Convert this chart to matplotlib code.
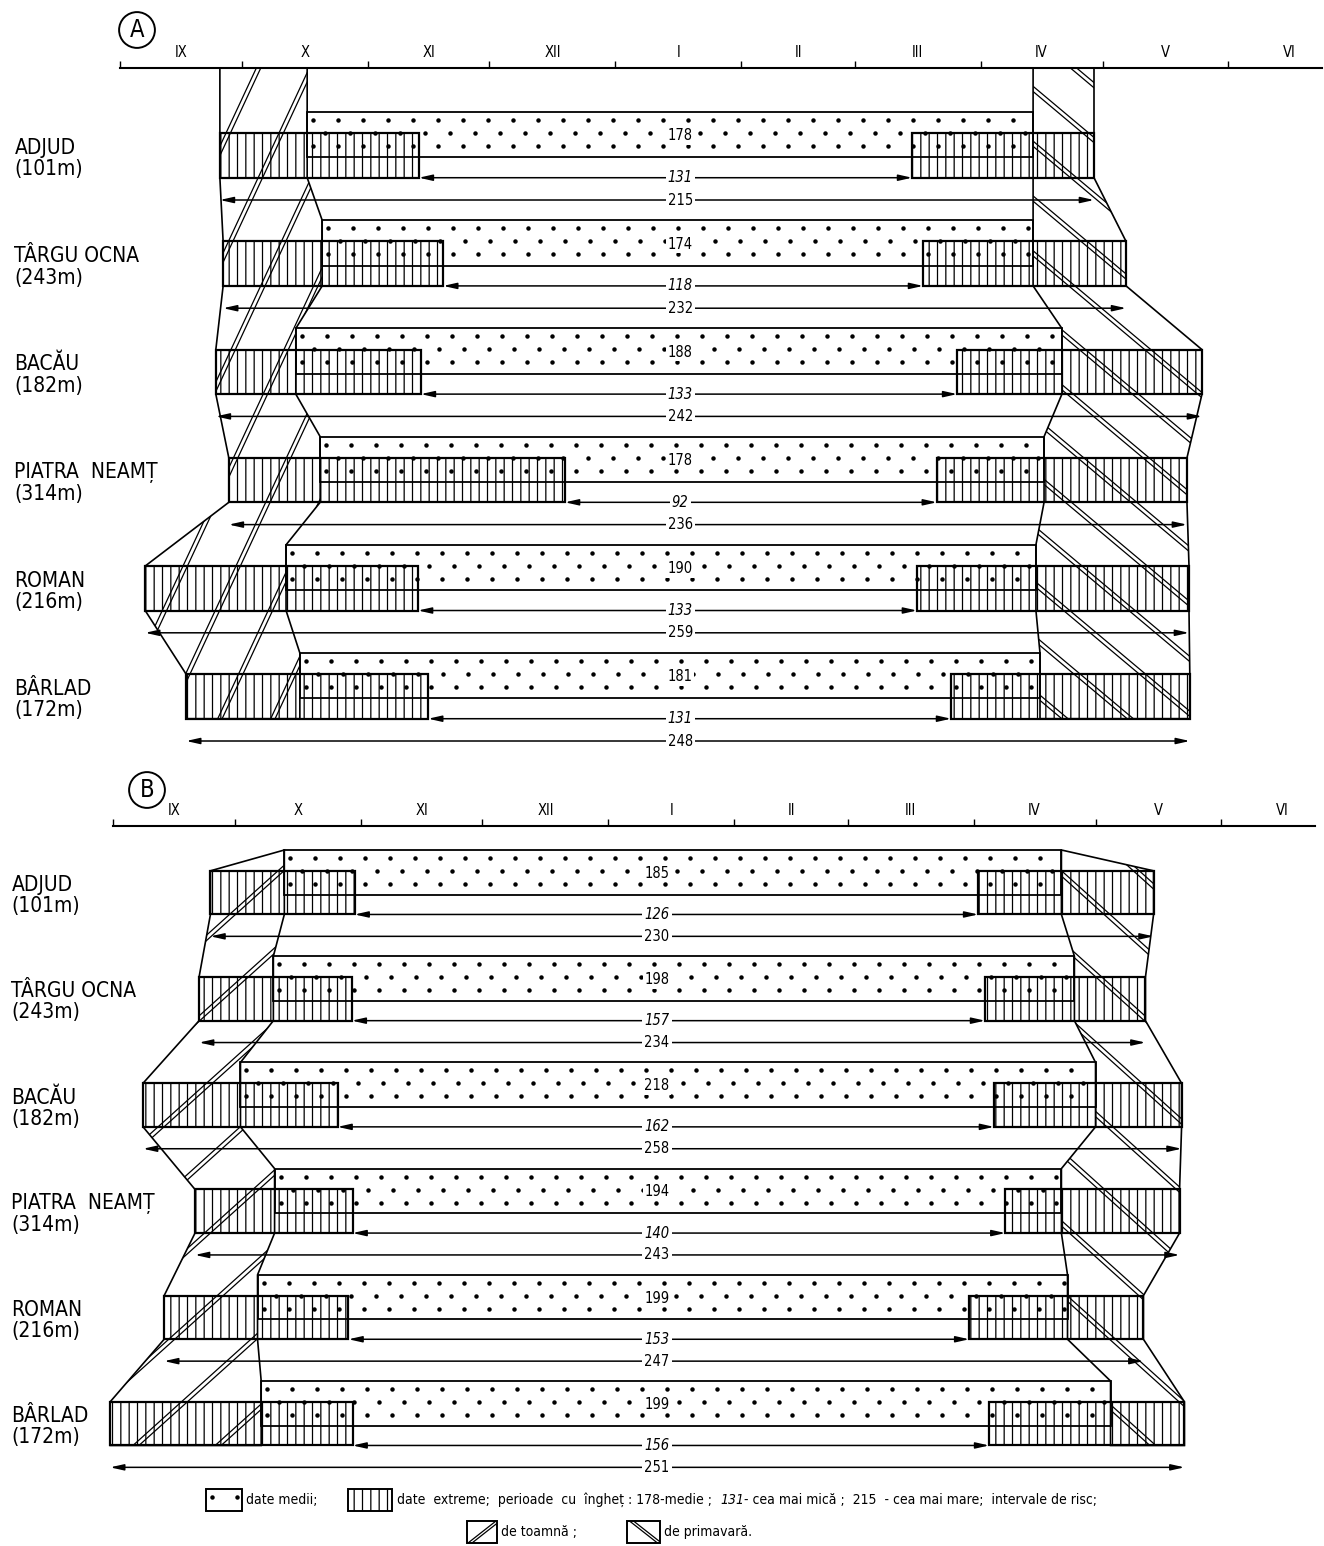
import numpy as np
import matplotlib
matplotlib.use("Agg")
import matplotlib.pyplot as plt
from matplotlib.patches import Rectangle, Polygon
from matplotlib.lines import Line2D
from matplotlib.transforms import IdentityTransform

plt.rcParams['font.family'] = ['DejaVu Sans']
plt.rcParams['font.stretch'] = 'condensed'
plt.rcParams['hatch.linewidth'] = 0.9

statii = ['ADJUD', 'TÂRGU OCNA', 'BACĂU', 'PIATRA  NEAMȚ', 'ROMAN', 'BÂRLAD']
altitudini = ['(101m)', '(243m)', '(182m)', '(314m)', '(216m)', '(172m)']
luni = ['IX', 'X', 'XI', 'XII', 'I', 'II', 'III', 'IV', 'V', 'VI']
zile_luna = [30, 31, 30, 31, 31, 28, 31, 30, 31, 30]

# zile numarate de la 1 septembrie
# A
a_prim_timpuriu = [24.6, 25.4, 23.6, 26.8, 6.2, 16.3]
a_prim_mediu = [46.1, 49.8, 43.3, 49.3, 40.9, 44.3]
a_prim_tarziu = [73.6, 79.6, 74.1, 109.6, 73.4, 75.9]
a_ultim_timpuriu = [195.1, 197.8, 206.2, 201.2, 196.3, 204.7]
a_ultim_mediu = [224.9, 224.9, 232.0, 227.6, 225.6, 226.6]
a_ultim_tarziu = [239.9, 247.8, 266.5, 262.8, 263.3, 263.5]
a_medie = [178, 174, 188, 178, 190, 181]
a_min = [131, 118, 133, 92, 133, 131]
a_max = [215, 232, 242, 236, 259, 248]

# B
b_prim_timpuriu = [24.0, 21.2, 7.4, 20.2, 12.6, -0.7]
b_prim_mediu = [42.2, 39.5, 31.4, 39.8, 35.6, 36.5]
b_prim_tarziu = [59.5, 58.8, 55.3, 59.0, 58.0, 59.0]
b_ultim_timpuriu = [213.1, 214.8, 217.0, 219.8, 210.9, 215.8]
b_ultim_mediu = [233.6, 236.8, 242.0, 233.6, 235.1, 245.7]
b_ultim_tarziu = [256.3, 254.3, 263.2, 262.7, 253.8, 263.9]
b_medie = [185, 198, 218, 194, 199, 199]
b_min = [126, 157, 162, 140, 153, 156]
b_max = [230, 234, 258, 243, 247, 251]

W, H = 1324, 1546
fig = plt.figure(figsize=(W / 100, H / 100), dpi=100)
rend = fig.canvas.get_renderer()

DOT_H = 0.42
BOX_T = 0.196
BOX_B = 0.607
MAX_Y = 0.813


def px_axes(left, top, width, height):
    return fig.add_axes([left / W, 1 - (top + height) / H, width / W, height / H])


def puncte(parent, patch):
    # textura de puncte in pixeli, taiata de dreptunghi
    bb = patch.get_window_extent(rend)
    xs, ys = [], []
    y = bb.y1 - 8
    r = 0
    while y > bb.y0 + 3:
        x = bb.x0 + 6 + (12 if r % 2 else 0)
        while x < bb.x1 - 3:
            xs.append(x)
            ys.append(y)
            x += 25
        y -= 13
        r += 1
    ln = Line2D(xs, ys, transform=IdentityTransform(), ls='none', marker='o',
                ms=2.2, mfc='black', mec='black')
    ln.set_clip_path(patch)
    parent.add_artist(ln)


def hasura(ax, verts, unghi, pas, lw=0.9):
    poly = Polygon(verts, closed=True, fill=False, lw=1.2, ec='black', clip_on=False)
    ax.add_patch(poly)
    pix = ax.transData.transform(np.array(verts))
    c = pix.mean(axis=0)
    R = np.ptp(pix, axis=0).sum()
    a = np.radians(unghi)
    d = np.array([np.cos(a), np.sin(a)])
    n = np.array([-d[1], d[0]])
    for k in np.arange(-R, R, pas):
        for off in (0, 4):
            p = c + n * (k + off)
            ln = Line2D([p[0] - d[0] * R, p[0] + d[0] * R],
                        [p[1] - d[1] * R, p[1] + d[1] * R],
                        transform=IdentityTransform(), lw=lw, color='black')
            ln.set_clip_path(poly)
            ax.add_artist(ln)


def sageata(ax, x0, x1, y, text, xe, italic=False):
    ax.annotate('', xy=(x1, y), xytext=(x0, y),
                arrowprops=dict(arrowstyle='<|-|>,head_length=0.8,head_width=0.18',
                                lw=1.1, color='black', shrinkA=0, shrinkB=0,
                                mutation_scale=10))
    ax.text(xe, y, text, ha='center', va='center', fontsize=10.5,
            style='italic' if italic else 'normal',
            bbox=dict(fc='white', ec='none', pad=1.5))


def panou(ax, y_axa, x_et, x_num, pt, pm, pl, ut, um, ul, medie, minim, maxim,
          ung_t, pas_t, ung_p, pas_p, cu_axa):
    n = len(statii)
    rows = np.arange(n)
    ax.set_xlim(0, 296)
    ax.set_ylim(5.9, y_axa)
    for s in ['left', 'right', 'bottom']:
        ax.spines[s].set_visible(False)
    ax.spines['top'].set_linewidth(1.5)
    ax.xaxis.set_ticks_position('top')
    start = np.concatenate([[0], np.cumsum(zile_luna)[:-1]])
    ax.set_xticks(start)
    ax.set_xticklabels([])
    ax.set_xticks(start + np.array(zile_luna) / 2, minor=True)
    ax.set_xticklabels(luni, minor=True)
    ax.tick_params(which='major', direction='out', length=5, width=1)
    ax.tick_params(which='minor', length=0, labelsize=10.5, pad=6)
    ax.set_yticks([])

    # intervale de risc de toamna
    v = []
    if cu_axa:
        v.append((pt[0], y_axa))
    for i in rows:
        v += [(pt[i], i + BOX_T), (pt[i], i + BOX_B)]
    for i in rows[::-1]:
        v += [(pm[i], i + BOX_B), (pm[i], i)]
    if cu_axa:
        v.append((pm[0], y_axa))
    hasura(ax, v, ung_t, pas_t)

    # intervale de risc de primavara
    v = []
    if cu_axa:
        v.append((um[0], y_axa))
    for i in rows:
        v += [(um[i], i), (um[i], i + BOX_B)]
    for i in rows[::-1]:
        v += [(ul[i], i + BOX_B), (ul[i], i + BOX_T)]
    if cu_axa:
        v.append((ul[0], y_axa))
    hasura(ax, v, ung_p, pas_p)

    for i in rows:
        ax.add_patch(Rectangle((pt[i], i + BOX_T), pl[i] - pt[i], BOX_B - BOX_T,
                               fill=False, hatch='||', lw=1.6, ec='black', clip_on=False))
        ax.add_patch(Rectangle((ut[i], i + BOX_T), ul[i] - ut[i], BOX_B - BOX_T,
                               fill=False, hatch='||', lw=1.6, ec='black', clip_on=False))
        bar = Rectangle((pm[i], i), um[i] - pm[i], DOT_H, fill=False, lw=1.3, ec='black')
        ax.add_patch(bar)
        puncte(ax, bar)
        ax.text(x_num, i + 0.22, str(medie[i]), ha='center', va='center', fontsize=10.5,
                bbox=dict(fc='white', ec='none', pad=1))
        sageata(ax, pl[i], ut[i], i + BOX_B, str(minim[i]), x_num, italic=True)
        sageata(ax, pt[i], ul[i], i + MAX_Y, str(maxim[i]), x_num)
        ax.text(x_et, i + 0.33, statii[i], ha='left', va='center', fontsize=15, clip_on=False)
        ax.text(x_et, i + 0.53, altitudini[i], ha='left', va='center', fontsize=15, clip_on=False)


axA = px_axes(120, 68, 296 * 4.06, (5.9 + 0.407) * 108.2)
panou(axA, -0.407, -26, 138, a_prim_timpuriu, a_prim_mediu, a_prim_tarziu,
      a_ultim_timpuriu, a_ultim_mediu, a_ultim_tarziu, a_medie, a_min, a_max,
      65, 48, -40, 42, True)

axB = px_axes(113, 826, 296 * 4.06, (5.9 + 0.226) * 106.2)
panou(axB, -0.226, -25, 134, b_prim_timpuriu, b_prim_mediu, b_prim_tarziu,
      b_ultim_timpuriu, b_ultim_mediu, b_ultim_tarziu, b_medie, b_min, b_max,
      42, 55, -42, 52, False)

fig.text(137 / W, 1 - 30 / H, 'A', ha='center', va='center', fontsize=17,
         bbox=dict(boxstyle='circle,pad=0.25', fc='white', ec='black', lw=1.4))
fig.text(147 / W, 1 - 790 / H, 'B', ha='center', va='center', fontsize=17,
         bbox=dict(boxstyle='circle,pad=0.25', fc='white', ec='black', lw=1.4))


# legenda
def fig_rect(x0, y0, x1, y1, **kw):
    r = Rectangle((x0 / W, 1 - y1 / H), (x1 - x0) / W, (y1 - y0) / H,
                  transform=fig.transFigure, fill=False, ec='black', lw=1.4, **kw)
    fig.add_artist(r)
    return r


def fig_txt(x, y, s, **kw):
    return fig.text(x / W, 1 - y / H, s, ha='left', va='center', fontsize=10, **kw)


r = fig_rect(206, 1489, 242, 1511)
puncte(fig, r)
fig_txt(246, 1500, 'date medii;')
fig_rect(348, 1489, 392, 1511, hatch='||')
t1 = fig_txt(397, 1500, 'date  extreme;  perioade  cu  îngheț : 178-medie ;')
t2 = fig.text((t1.get_window_extent(rend).x1 + 8) / W, 1 - 1500 / H, '131',
              fontsize=10, style='italic', va='center', ha='left')
fig.text((t2.get_window_extent(rend).x1) / W, 1 - 1500 / H,
         '- cea mai mică ;  215  - cea mai mare;  intervale de risc;',
         fontsize=10, va='center', ha='left')

for (x0, x1, txt, sgn) in [(467, 497, 'de toamnă ;', 1), (627, 660, 'de primavară.', -1)]:
    r = fig_rect(x0, 1521, x1, 1543)
    xm = (x0 + x1) / 2
    for off in (0, 4):
        ln = Line2D([(xm - 14 + off) / W, (xm + 14 + off) / W],
                    [1 - (1543 if sgn > 0 else 1521) / H, 1 - (1521 if sgn > 0 else 1543) / H],
                    transform=fig.transFigure, lw=0.9, color='black')
        ln.set_clip_path(r)
        fig.add_artist(ln)
    fig_txt(x1 + 4, 1532, txt)

fig.savefig('out.png', dpi=100, facecolor='white')
